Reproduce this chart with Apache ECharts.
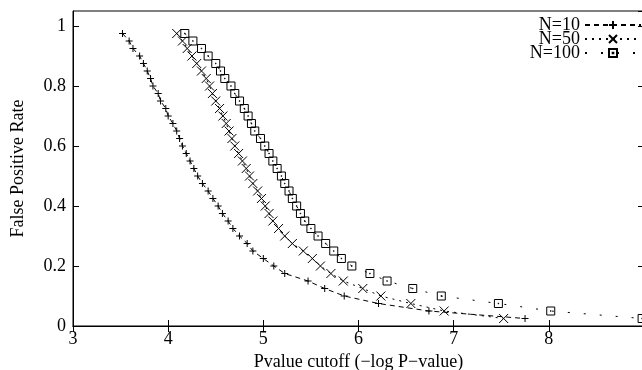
<!DOCTYPE html>
<html><head><meta charset="utf-8">
<script src="https://cdn.jsdelivr.net/npm/echarts@6/dist/echarts.min.js"></script>
<style>html,body{margin:0;padding:0;background:#fff}#c{width:642px;height:370px}</style>
</head><body><div id="c"></div>
<script>
// False positive rate levels (y values) shared by all three curves
const fprLevels = [0.975,0.95,0.925,0.9,0.875,0.85,0.825,0.8,0.775,0.75,0.725,0.7,0.675,0.65,0.625,0.6,0.575,0.55,0.525,0.5,0.475,0.45,0.425,0.4,0.375,0.35,0.325,0.3,0.275,0.25,0.225,0.2,0.175,0.15,0.125,0.1,0.075,0.05,0.025];
// P-value cutoffs (x values)
const cutoffN10 = [3.52,3.59,3.63,3.70,3.74,3.78,3.815,3.84,3.895,3.92,3.975,4.00,4.05,4.09,4.12,4.15,4.19,4.23,4.27,4.31,4.36,4.42,4.47,4.525,4.57,4.63,4.68,4.75,4.83,4.89,5.00,5.11,5.225,5.47,5.645,5.85,6.21,6.74,7.75];
const cutoffN50 = [4.09,4.15,4.20,4.25,4.30,4.35,4.40,4.435,4.465,4.50,4.54,4.575,4.61,4.64,4.67,4.70,4.74,4.78,4.82,4.855,4.89,4.94,4.98,5.02,5.06,5.10,5.16,5.225,5.305,5.42,5.515,5.60,5.71,5.84,6.045,6.235,6.55,6.90,7.525];
const cutoffN100 = [4.175,4.26,4.35,4.42,4.50,4.55,4.595,4.66,4.70,4.75,4.80,4.84,4.875,4.91,4.97,5.015,5.06,5.10,5.145,5.19,5.225,5.27,5.305,5.35,5.39,5.435,5.50,5.575,5.655,5.74,5.82,5.93,6.12,6.30,6.57,6.87,7.47,8.02,8.98];
const seriesNames = ['N=10','N=50','N=100'];
const xTitle = 'Pvalue cutoff (\u2212log P\u2212value)';
const yTitle = 'False Positive Rate';

const FONT = 'Liberation Serif';
const pair = xs => xs.map((x, i) => [x, fprLevels[i]]);

const symPlus = 'path://M0,5H10M5,0V10';
const symCross = 'path://M0,0L10,10M10,0L0,10';
const symBox = 'path://M0,0H10V10H0ZM4.6,4.6H5.4V5.4H4.6Z';

function mkSeries(name, xs, sym, size, dash) {
  return {
    name, type: 'line', data: pair(xs), xAxisIndex: 0, yAxisIndex: 0,
    symbol: sym, symbolSize: size, showSymbol: true, showAllSymbol: true,
    symbolKeepAspect: true,
    lineStyle: { color: '#000', width: 1, type: dash },
    itemStyle: { color: 'rgba(0,0,0,0)', borderColor: '#000', borderWidth: 1 },
    emphasis: { disabled: true }, animation: false, clip: false
  };
}

const axisCommon = {
  type: 'value',
  axisLine: { show: true, lineStyle: { color: '#000', width: 1 } },
  axisTick: { show: true, inside: true, length: 6, lineStyle: { color: '#000', width: 1 } },
  splitLine: { show: false }
};

const chart = echarts.init(document.getElementById('c'), null, { renderer: 'canvas' });
chart.setOption({
  animation: false,
  backgroundColor: '#fff',
  grid: { left: 73, top: 11, width: 571, height: 315, show: true, borderColor: '#000', borderWidth: 1, outerBoundsMode: 'none', containLabel: false },
  legend: {
    data: seriesNames, orient: 'vertical', right: 0, top: 16, align: 'right', padding: 0,
    itemWidth: 56, itemHeight: 10, itemGap: -4,
    textStyle: { fontFamily: FONT, fontSize: 18, color: '#000' },
    selectedMode: false
  },
  xAxis: [
    Object.assign({}, axisCommon, {
      min: 3, max: 9, interval: 1, position: 'bottom',
      axisLabel: { fontFamily: FONT, fontSize: 18, color: '#000', margin: 4, showMaxLabel: false },
      name: xTitle, nameLocation: 'middle', nameGap: 21,
      nameTextStyle: { fontFamily: FONT, fontSize: 18, color: '#000' }
    }),
    Object.assign({}, axisCommon, {
      min: 3, max: 9, interval: 1, position: 'top', axisLabel: { show: false }
    })
  ],
  yAxis: [
    Object.assign({}, axisCommon, {
      min: 0, max: 1.05, interval: 0.2, position: 'left',
      axisLabel: { fontFamily: FONT, fontSize: 18, color: '#000', margin: 7, showMaxLabel: false },
      name: yTitle, nameLocation: 'middle', nameGap: 46, nameRotate: 90,
      nameTextStyle: { fontFamily: FONT, fontSize: 18, color: '#000' }
    }),
    Object.assign({}, axisCommon, {
      min: 0, max: 1.05, interval: 0.2, position: 'right', axisLabel: { show: false }
    })
  ],
  series: [
    mkSeries(seriesNames[0], cutoffN10, symPlus, 7, [5, 4]),
    mkSeries(seriesNames[1], cutoffN50, symCross, 9, [2, 5]),
    mkSeries(seriesNames[2], cutoffN100, symBox, 8, [2, 14])
  ]
});
</script></body></html>
